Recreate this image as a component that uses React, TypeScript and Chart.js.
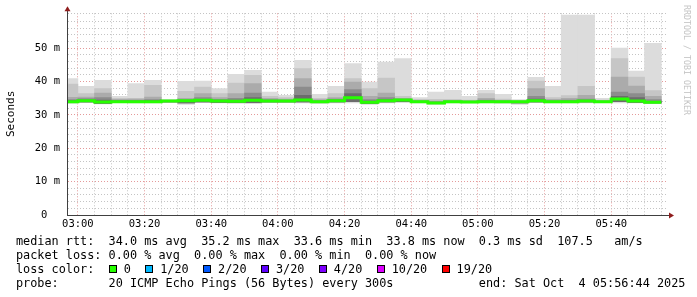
import React, { useEffect, useRef } from "react";
import { Chart, registerables } from "chart.js";

Chart.register(...registerables);

// ---- time window (minutes after midnight) ----
const windowStart = 176 + 44 / 60; // 02:56:44
const windowEnd = 356 + 44 / 60; // 05:56:44
const stepMinutes = 5;

// end time of each 5-minute step (minutes after midnight)
const stepEnds = [
  180, 185, 190, 195, 200, 205, 210, 215, 220, 225, 230, 235,
  240, 245, 250, 255, 260, 265, 270, 275, 280, 285, 290, 295,
  300, 305, 310, 315, 320, 325, 330, 335, 340, 345, 350, 355,
];

// x grid positions (every 5 min) and y grid values (every 2 ms)
const xTickMinutes = stepEnds;
const yTickValues = [0, 2, 4, 6, 8, 10, 12, 14, 16, 18, 20, 22, 24, 26, 28, 30, 32, 34, 36, 38, 40, 42, 44, 46, 48, 50, 52, 54, 56, 58];

// ---- smoke (ms) ----
const smokeMax = [
  40.9, 38.6, 40.4, 35.6, 39.4, 40.4, 34.6, 40.1, 40.2, 37.9, 42.2, 43.4,
  36.9, 35.9, 46.4, 36.2, 38.6, 45.4, 39.9, 45.9, 46.9, 35.2, 36.9, 37.4,
  35.6, 37.4, 36.2, 34.6, 41.3, 38.6, 60.0, 60.0, 35.0, 50.1, 43.2, 51.5,
];
const smokeP2 = [
  39.3, 36.4, 37.9, 35.0, 35.0, 38.9, 34.5, 37.1, 38.4, 36.4, 39.6, 41.9,
  35.6, 35.2, 43.9, 35.0, 36.4, 40.9, 37.9, 41.1, 35.6, 34.7, 34.7, 34.7,
  34.5, 36.4, 34.8, 34.4, 40.2, 35.2, 35.8, 38.6, 34.5, 46.9, 41.4, 37.3,
];
const smokeP3 = [
  35.3, 35.4, 36.6, 34.7, 34.8, 35.4, 34.4, 35.0, 36.4, 35.2, 36.4, 39.4,
  35.0, 34.8, 40.9, 34.6, 35.2, 39.9, 35.6, 36.6, 35.0, 34.4, 34.2, 34.4,
  34.3, 35.0, 34.4, 34.2, 37.9, 34.7, 35.0, 35.9, 34.3, 41.4, 38.7, 35.6,
];
const smokeP4 = [
  34.6, 34.9, 35.2, 34.4, 34.4, 34.6, 34.3, 34.6, 35.2, 34.7, 35.0, 36.6,
  34.6, 34.5, 38.4, 34.3, 34.8, 37.6, 34.6, 35.2, 34.8, 34.2, 34.0, 34.2,
  34.1, 34.5, 34.2, 34.1, 35.6, 34.3, 34.5, 34.8, 34.1, 36.9, 36.4, 34.6,
];
const smokeP5 = [
  34.3, 34.5, 34.5, 34.2, 34.2, 34.3, 34.2, 34.4, 34.6, 34.4, 34.5, 35.2,
  34.4, 34.3, 35.9, 34.1, 34.5, 36.4, 34.2, 34.6, 34.6, 34.1, 33.8, 34.1,
  34.0, 34.2, 34.1, 34.0, 34.8, 34.1, 34.2, 34.4, 34.0, 35.6, 35.2, 34.1,
];
const smokeInnerLow = [
  33.7, 33.9, 33.5, 33.8, 33.8, 33.8, 33.9, 33.6, 33.9, 33.8, 33.7, 33.7,
  33.9, 33.9, 33.9, 33.7, 33.9, 34.0, 33.5, 33.9, 34.0, 33.8, 33.4, 33.8,
  33.8, 33.8, 33.8, 33.6, 33.9, 33.8, 33.8, 33.9, 33.8, 34.0, 33.8, 33.6,
];
const smokeMin = [
  33.5, 33.7, 33.3, 33.7, 33.6, 33.6, 33.8, 33.2, 33.7, 33.6, 33.5, 33.4,
  33.7, 33.8, 33.6, 33.4, 33.6, 33.6, 33.2, 33.6, 33.7, 33.6, 33.2, 33.6,
  33.6, 33.6, 33.5, 33.2, 33.7, 33.6, 33.6, 33.6, 33.7, 33.6, 33.6, 33.5,
];
const medianRtt = [
  34.0, 34.3, 33.9, 34.0, 34.0, 34.0, 34.2, 34.3, 34.4, 34.2, 34.1, 34.4,
  34.2, 34.2, 34.5, 34.0, 34.3, 35.2, 33.8, 34.3, 34.5, 34.0, 33.6, 34.0,
  33.9, 34.0, 34.0, 34.0, 34.3, 34.0, 34.0, 34.2, 34.0, 34.8, 34.2, 33.8,
];

// ---- legend ----
const lossColors = ["#26ff00", "#00b8ff", "#0059ff", "#5e00ff", "#7e00ff", "#dd00ff", "#ff0000"];
const lossLabels = ["0", "1/20", "2/20", "3/20", "4/20", "10/20", "19/20"];
const legendRtt = "median rtt:  34.0 ms avg  35.2 ms max  33.6 ms min  33.8 ms now  0.3 ms sd  107.5   am/s";
const legendLoss = "packet loss: 0.00 % avg  0.00 % max  0.00 % min  0.00 % now";
const legendProbe = "probe:       20 ICMP Echo Pings (56 Bytes) every 300s            end: Sat Oct  4 05:56:44 2025";

const MONO = "'DejaVu Sans Mono', monospace";
const smokeShades = ["#6c6c6c", "#8c8c8c", "#ababab", "#c6c6c6", "#dcdcdc"];
const medianColor = "#26ff00";
const majorGrid = "#e49a9a";
const minorGrid = "#c4c4c4";
const arrowColor = "#8f1d1d";

const pad2 = (n: number) => String(n).padStart(2, "0");

export default function App() {
  const canvasRef = useRef<HTMLCanvasElement | null>(null);

  useEffect(() => {
    const canvas = canvasRef.current;
    if (!canvas) return;

    const layerTops = [smokeP5, smokeP4, smokeP3, smokeP2, smokeMax];
    const layerLows = [smokeInnerLow, smokeInnerLow, smokeInnerLow, smokeInnerLow, smokeMin];

    const smokeSets = layerTops.map((tops, li) => ({
      type: "bar" as const,
      label: "smoke" + li,
      data: stepEnds.map((t, i) => ({ x: t - stepMinutes / 2, y: [layerLows[li][i], tops[i]] })),
      backgroundColor: smokeShades[li],
      borderWidth: 0,
      grouped: false,
      barPercentage: 1,
      categoryPercentage: 1,
      clip: 0,
    }));

    const medianData = [
      { x: stepEnds[0] - stepMinutes, y: medianRtt[0] },
      ...stepEnds.map((t, i) => ({ x: t, y: medianRtt[i] })),
    ];

    const overlay = {
      id: "rrdOverlay",
      beforeDatasetDraw(_chart: any, args: any) {
        if (args.index === 0) return false;
        return true;
      },
      afterDraw(chart: any) {
        const ctx = chart.ctx as CanvasRenderingContext2D;
        const a = chart.chartArea;
        // median line on top of the grid
        const meta = chart.getDatasetMeta(0);
        ctx.save();
        ctx.beginPath();
        ctx.rect(a.left, a.top, a.right - a.left, a.bottom - a.top);
        ctx.clip();
        meta.dataset.draw(ctx, a);
        ctx.restore();
        // axis extensions and arrows
        const x0 = Math.round(a.left) + 0.5;
        const y0 = Math.round(a.bottom) + 0.5;
        ctx.save();
        ctx.strokeStyle = "#404040";
        ctx.lineWidth = 1;
        ctx.beginPath();
        ctx.moveTo(x0, y0);
        ctx.lineTo(x0, a.top - 3);
        ctx.moveTo(x0, y0);
        ctx.lineTo(a.right + 3, y0);
        ctx.stroke();
        ctx.fillStyle = arrowColor;
        ctx.beginPath();
        ctx.moveTo(x0 - 3, a.top - 2);
        ctx.lineTo(x0 + 3, a.top - 2);
        ctx.lineTo(x0, a.top - 7);
        ctx.closePath();
        ctx.fill();
        ctx.beginPath();
        ctx.moveTo(a.right + 2, y0 - 3);
        ctx.lineTo(a.right + 2, y0 + 3);
        ctx.lineTo(a.right + 7, y0);
        ctx.closePath();
        ctx.fill();
        ctx.restore();
      },
    };

    const chart = new Chart(canvas, {
      type: "bar",
      data: {
        datasets: [
          {
            type: "line" as const,
            label: "median",
            data: medianData,
            borderColor: medianColor,
            borderWidth: 3,
            pointRadius: 0,
            stepped: "after",
            fill: false,
            borderCapStyle: "butt",
            borderJoinStyle: "miter",
          } as any,
          ...(smokeSets as any[]),
        ],
      },
      options: {
        responsive: false,
        animation: false,
        events: [],
        layout: { padding: { top: 13, right: 30, left: 0, bottom: 0 } },
        plugins: {
          legend: { display: false },
          tooltip: { enabled: false },
          title: { display: false },
        },
        scales: {
          x: {
            type: "linear",
            min: windowStart,
            max: windowEnd,
            offset: false,
            z: 1,
            afterBuildTicks: (s: any) => {
              s.ticks = xTickMinutes.map((v) => ({ value: v }));
            },
            afterFit: (s: any) => {
              s.height = 82;
            },
            ticks: {
              autoSkip: false,
              maxRotation: 0,
              minRotation: 0,
              padding: 3,
              color: "#000",
              font: { family: MONO, size: 10.5 },
              callback: (v: any) => {
                const n = Number(v);
                if (n % 20 !== 0) return "";
                return pad2(Math.floor(n / 60)) + ":" + pad2(n % 60);
              },
            },
            grid: {
              offset: false,
              drawTicks: false,
              lineWidth: 1,
              color: (c: any) => (c.tick && c.tick.value % 20 === 0 ? majorGrid : minorGrid),
            },
            border: { display: true, color: "#404040", width: 1, dash: [1, 2] },
          },
          y: {
            type: "linear",
            min: 0,
            max: 60.5,
            z: 1,
            afterBuildTicks: (s: any) => {
              s.ticks = [...yTickValues, 60.5].map((v) => ({ value: v }));
            },
            afterFit: (s: any) => {
              s.width = 67;
            },
            ticks: {
              autoSkip: false,
              padding: 7,
              color: "#000",
              font: { family: MONO, size: 10.5 },
              callback: (v: any) => {
                const n = Number(v);
                if (n === 0) return "0  ";
                if (n % 10 !== 0) return "";
                return n + " m";
              },
            },
            grid: {
              drawTicks: false,
              lineWidth: 1,
              color: (c: any) => {
                const v = c.tick ? c.tick.value : 1;
                if (v === 0) return "rgba(0,0,0,0)";
                return v % 10 === 0 ? majorGrid : minorGrid;
              },
            },
            border: { display: true, color: "#404040", width: 1, dash: [1, 2] },
          },
        },
      } as any,
      plugins: [overlay],
    });

    return () => chart.destroy();
  }, []);

  const line = (top: number): React.CSSProperties => ({
    position: "absolute",
    left: 16,
    top,
    height: 14,
    lineHeight: "14px",
    fontFamily: MONO,
    fontSize: "11.83px",
    whiteSpace: "pre",
    color: "#000",
  });

  return (
    <div style={{ position: "absolute", left: 0, top: 0, width: 697, height: 297, background: "#fff", overflow: "hidden" }}>
      <canvas ref={canvasRef} width={697} height={297} style={{ position: "absolute", left: 0, top: 0, width: 697, height: 297 }} />
      <div
        style={{
          position: "absolute",
          left: 4,
          top: 137,
          height: 14,
          lineHeight: "14px",
          transformOrigin: "0 0",
          transform: "rotate(-90deg)",
          fontFamily: MONO,
          fontSize: "11px",
          whiteSpace: "pre",
          color: "#000",
        }}
      >
        Seconds
      </div>
      <div
        style={{
          position: "absolute",
          left: 692,
          top: 5,
          height: 10,
          lineHeight: "10px",
          transformOrigin: "0 0",
          transform: "rotate(90deg)",
          fontFamily: MONO,
          fontSize: "8.3px",
          whiteSpace: "pre",
          color: "#c4c4c4",
        }}
      >
        RRDTOOL / TOBI OETIKER
      </div>
      <div style={line(234)}>{legendRtt}</div>
      <div style={line(248)}>{legendLoss}</div>
      <div style={line(262)}>
        {"loss color:  "}
        {lossColors.map((c, i) => (
          <React.Fragment key={i}>
            <span style={{ display: "inline-block", width: 8, height: 14, verticalAlign: "top", position: "relative" }}>
              <span
                style={{
                  position: "absolute",
                  left: 0,
                  top: 3,
                  width: 8,
                  height: 8,
                  boxSizing: "border-box",
                  border: "1px solid #000",
                  background: c,
                }}
              />
            </span>
            {" " + lossLabels[i] + (i < lossColors.length - 1 ? "  " : "")}
          </React.Fragment>
        ))}
      </div>
      <div style={line(276)}>{legendProbe}</div>
    </div>
  );
}
